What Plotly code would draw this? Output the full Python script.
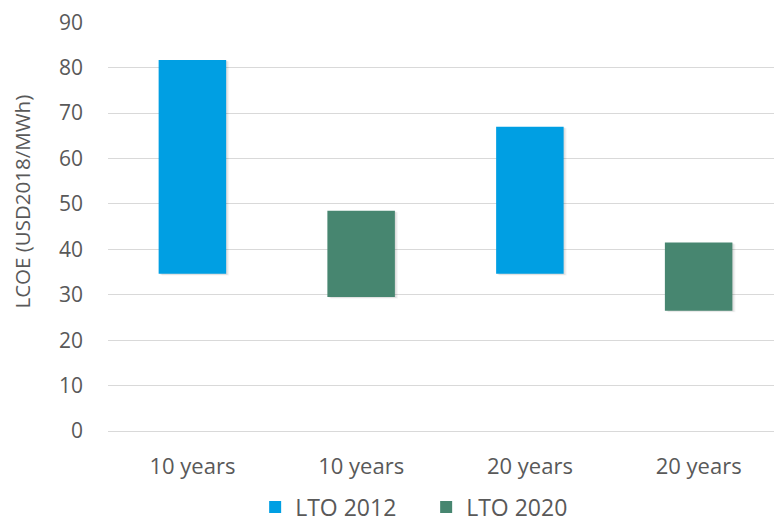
import plotly.graph_objects as go

tick_labels = ["10 years", "10 years", "20 years", "20 years"]
lto2012_pos = [0, 2]
lto2012_low = [34.6, 34.6]
lto2012_high = [81.7, 67.0]
lto2020_pos = [1, 3]
lto2020_low = [29.5, 26.5]
lto2020_high = [48.5, 41.5]

FONT = "Open Sans"
GRAY = "#595959"
BAR_W = 0.4


def spans(high, low):
    return [h - l for h, l in zip(high, low)]


fig = go.Figure()

# soft drop shadows
for pos, low, high in [(lto2012_pos, lto2012_low, lto2012_high),
                       (lto2020_pos, lto2020_low, lto2020_high)]:
    for k, alpha in [(1, 0.05), (2, 0.05), (3, 0.04)]:
        fig.add_trace(go.Bar(
            x=pos, base=[l - 0.12 * k for l in low], y=spans(high, low),
            width=BAR_W, offset=-BAR_W / 2 + 0.006 * k,
            marker=dict(color=f"rgba(0,0,0,{alpha})", line=dict(width=0)),
            showlegend=False, hoverinfo="skip",
        ))

fig.add_trace(go.Bar(
    name="LTO 2012", x=lto2012_pos, base=lto2012_low, y=spans(lto2012_high, lto2012_low),
    width=BAR_W, offset=-BAR_W / 2, marker=dict(color="#009FE3", line=dict(width=0)),
))
fig.add_trace(go.Bar(
    name="LTO 2020", x=lto2020_pos, base=lto2020_low, y=spans(lto2020_high, lto2020_low),
    width=BAR_W, offset=-BAR_W / 2, marker=dict(color="#478670", line=dict(width=0)),
))

fig.add_annotation(
    text="LCOE (USD2018/MWh)", textangle=-90, xref="paper", yref="paper",
    x=-0.128, y=0.56, xanchor="center", yanchor="middle", showarrow=False,
    font=dict(size=20.5, color=GRAY, family=FONT),
)

fig.update_layout(
    width=782, height=523,
    margin=dict(l=100, r=7, t=14, b=100, autoexpand=False),
    paper_bgcolor="white", plot_bgcolor="white",
    barmode="overlay",
    font=dict(family=FONT, color=GRAY, size=20),
    showlegend=True,
    legend=dict(orientation="h", x=0.218, xanchor="left", y=-0.186, yanchor="middle",
                font=dict(size=23, color=GRAY), itemwidth=30, entrywidth=126,
                traceorder="normal", itemclick=False),
    xaxis=dict(range=[-0.5, 3.5], tickmode="array", tickvals=[0, 1, 2, 3], ticktext=tick_labels,
               showgrid=False, zeroline=False, showline=True, linecolor="#d9d9d9", linewidth=1,
               ticks="", ticklabelstandoff=16, tickfont=dict(size=22, color=GRAY)),
    yaxis=dict(range=[0, 90.05], tickmode="array", tickvals=[0, 10, 20, 30, 40, 50, 60, 70, 80, 90],
               showgrid=True, gridcolor="#d9d9d9", gridwidth=1,
               zeroline=False, showline=False, ticks="", ticklabelstandoff=24,
               ticklabeloverflow="allow", tickfont=dict(size=21, color=GRAY)),
)

fig.write_html("out.html")
